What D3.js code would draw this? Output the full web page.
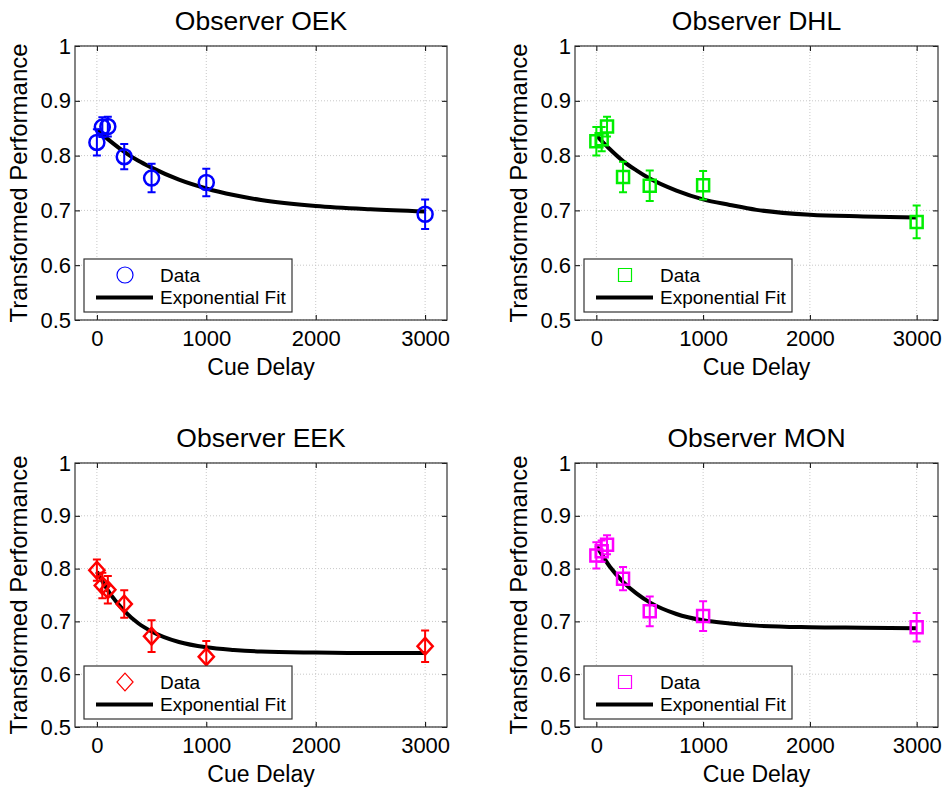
<!DOCTYPE html>
<html>
<head>
<meta charset="utf-8">
<script src="https://cdn.jsdelivr.net/npm/d3@7"></script>
<style>
  body { margin: 0; background: #fff; }
  svg { display: block; font-family: "Liberation Sans", Arial, sans-serif; }
</style>
</head>
<body>
<div id="chart"></div>
<script>
// cue delays (ms) of the measured points and of the read-off fit curve
const delays = [0, 50, 100, 250, 500, 1000, 3000];
const fitDelays = [0, 125, 250, 375, 500, 750, 1000, 1250, 1500, 2000, 2500, 3000];

const observers = ["OEK", "DHL", "EEK", "MON"];

const oekMean = [0.824, 0.852, 0.853, 0.798, 0.759, 0.751, 0.693];
const oekErr  = [0.024, 0.018, 0.018, 0.023, 0.026, 0.025, 0.027];
const oekFit  = [0.847, 0.826, 0.807, 0.791, 0.778, 0.756, 0.740, 0.728, 0.719, 0.708, 0.702, 0.698];

const dhlMean = [0.826, 0.830, 0.853, 0.761, 0.745, 0.746, 0.679];
const dhlErr  = [0.026, 0.022, 0.018, 0.028, 0.028, 0.026, 0.030];
const dhlFit  = [0.837, 0.812, 0.790, 0.773, 0.758, 0.736, 0.720, 0.710, 0.701, 0.692, 0.689, 0.687];

const eekMean = [0.797, 0.768, 0.760, 0.733, 0.672, 0.633, 0.653];
const eekErr  = [0.020, 0.024, 0.026, 0.026, 0.030, 0.030, 0.030];
const eekFit  = [0.794, 0.751, 0.720, 0.697, 0.681, 0.661, 0.651, 0.646, 0.643, 0.641, 0.640, 0.640];

const monMean = [0.825, 0.833, 0.845, 0.781, 0.719, 0.710, 0.689];
const monErr  = [0.025, 0.020, 0.018, 0.022, 0.028, 0.028, 0.027];
const monFit  = [0.844, 0.804, 0.775, 0.753, 0.736, 0.714, 0.702, 0.696, 0.692, 0.689, 0.688, 0.687];

const xTicks = [0, 1000, 2000, 3000];
const yTicks = [0.5, 0.6, 0.7, 0.8, 0.9, 1];
const legendLabels = ["Data", "Exponential Fit"];

const series = [
  { mean: oekMean, err: oekErr, fit: oekFit, color: "#0000ff", marker: "circle" },
  { mean: dhlMean, err: dhlErr, fit: dhlFit, color: "#00ee00", marker: "square" },
  { mean: eekMean, err: eekErr, fit: eekFit, color: "#ff0000", marker: "diamond" },
  { mean: monMean, err: monErr, fit: monFit, color: "#ff00ff", marker: "square" },
];

// panel boxes in page pixels
const boxes = [
  { left: 75, right: 447, top: 46, bottom: 320 },
  { left: 575, right: 938, top: 46, bottom: 320 },
  { left: 75, right: 447, top: 463, bottom: 727 },
  { left: 575, right: 938, top: 463, bottom: 727 },
];

const svg = d3.select("#chart")
  .append("svg")
  .attr("width", 944)
  .attr("height", 788);

svg.append("rect").attr("width", 944).attr("height", 788).attr("fill", "#fff");

function markerPath(type, s) {
  if (type === "circle") return d3.symbol(d3.symbolCircle, Math.PI * s * s)();
  if (type === "square") return `M${-s},${-s}H${s}V${s}H${-s}Z`;
  return `M0,${-s * 1.05}L${s * 0.95},0L0,${s * 1.05}L${-s * 0.95},0Z`;
}

function drawPanel(i) {
  const b = boxes[i];
  const d = series[i];
  const w = b.right - b.left;
  const h = b.bottom - b.top;

  const x = d3.scaleLinear().domain([-200, 3200]).range([0, w]);
  const y = d3.scaleLinear().domain([0.5, 1]).range([h, 0]);

  const g = svg.append("g").attr("transform", `translate(${b.left},${b.top})`);

  // dotted grid
  g.append("g").selectAll("line").data(xTicks).join("line")
    .attr("x1", d => x(d)).attr("x2", d => x(d))
    .attr("y1", 0).attr("y2", h)
    .attr("stroke", "#c8c8c8").attr("stroke-dasharray", "1,2");
  g.append("g").selectAll("line").data(yTicks).join("line")
    .attr("x1", 0).attr("x2", w)
    .attr("y1", d => y(d)).attr("y2", d => y(d))
    .attr("stroke", "#c8c8c8").attr("stroke-dasharray", "1,2");

  // axes with inward ticks
  const fmt = v => String(+v.toFixed(1));
  const axes = [
    [d3.axisBottom(x).tickValues(xTicks).tickFormat(d3.format("d")), `translate(0,${h})`, 10],
    [d3.axisLeft(y).tickValues(yTicks).tickFormat(fmt), null, 4],
    [d3.axisTop(x).tickValues(xTicks), null, 0],
    [d3.axisRight(y).tickValues(yTicks), `translate(${w},0)`, 0],
  ];
  axes.forEach(([ax, tr, pad]) => {
    const a = g.append("g")
      .call(ax.tickSizeInner(-5).tickSizeOuter(0).tickPadding(pad));
    if (tr) a.attr("transform", tr);
    a.select(".domain").remove();
    a.selectAll("line").attr("stroke", "#000");
    if (pad) a.selectAll("text").attr("font-size", 22).attr("fill", "#000")
      .attr("font-family", "Liberation Sans, Arial, sans-serif");
    else a.selectAll("text").remove();
  });

  g.append("rect").attr("width", w).attr("height", h)
    .attr("fill", "none").attr("stroke", "#333").attr("stroke-width", 1.2);

  // fit curve
  const line = d3.line((v, k) => x(fitDelays[k]), v => y(v)).curve(d3.curveMonotoneX);
  g.append("path").datum(d.fit)
    .attr("d", line)
    .attr("fill", "none").attr("stroke", "#000").attr("stroke-width", 4);

  // error bars
  const eb = g.append("g").attr("stroke", d.color).attr("stroke-width", 2).attr("fill", "none");
  delays.forEach((t, k) => {
    const cx = x(t), lo = y(d.mean[k] - d.err[k]), hi = y(d.mean[k] + d.err[k]);
    eb.append("path").attr("d", `M${cx},${lo}V${hi}M${cx - 4},${lo}H${cx + 4}M${cx - 4},${hi}H${cx + 4}`);
  });

  // markers
  const size = d.marker === "circle" ? 7.5 : d.marker === "square" ? 6 : 8;
  g.append("g").selectAll("path").data(d.mean).join("path")
    .attr("transform", (v, k) => `translate(${x(delays[k])},${y(v)})`)
    .attr("d", markerPath(d.marker, size))
    .attr("fill", "none").attr("stroke", d.color).attr("stroke-width", 2.5);

  // titles
  svg.append("text")
    .attr("x", b.left + w / 2).attr("y", b.top - 16)
    .attr("text-anchor", "middle").attr("font-size", 26.5)
    .text(`Observer ${observers[i]}`);
  svg.append("text")
    .attr("x", b.left + w / 2).attr("y", b.bottom + 55)
    .attr("text-anchor", "middle").attr("font-size", 23)
    .text("Cue Delay");
  svg.append("text")
    .attr("transform", `translate(${b.left - 48},${b.top + h / 2}) rotate(-90)`)
    .attr("text-anchor", "middle").attr("font-size", 24)
    .text("Transformed Performance");

  // legend
  const lg = g.append("g").attr("transform", `translate(9,${h - 61})`);
  lg.append("rect").attr("width", 208).attr("height", 53)
    .attr("fill", "#fff").attr("stroke", "#333").attr("stroke-width", 1.2);
  lg.append("path").attr("transform", "translate(41,16)")
    .attr("d", markerPath(d.marker, d.marker === "circle" ? 8 : d.marker === "square" ? 6.5 : 8.5))
    .attr("fill", "none").attr("stroke", d.color).attr("stroke-width", 1.2);
  lg.append("line").attr("x1", 12).attr("x2", 69).attr("y1", 38.5).attr("y2", 38.5)
    .attr("stroke", "#000").attr("stroke-width", 4);
  lg.selectAll("text").data(legendLabels).join("text")
    .attr("x", 76).attr("y", (v, k) => 16 + k * 22.5)
    .attr("dy", "0.35em").attr("font-size", 19)
    .text(v => v);
}

observers.forEach((o, i) => drawPanel(i));
</script>
</body>
</html>
